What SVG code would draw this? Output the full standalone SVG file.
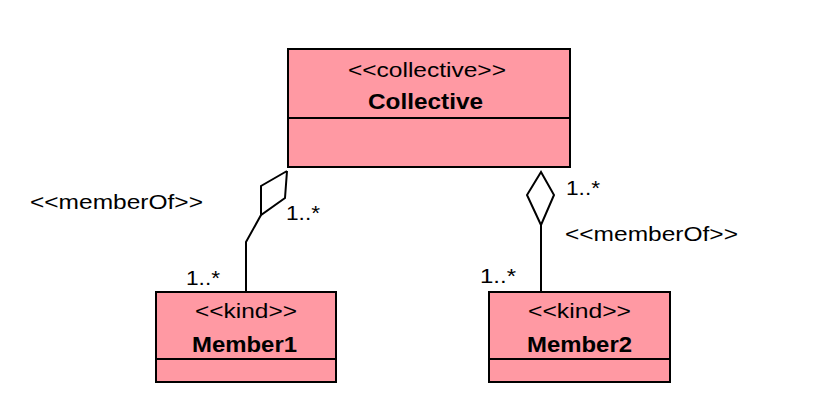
<svg xmlns="http://www.w3.org/2000/svg" width="825" height="405" viewBox="0 0 825 405">
<style>
.box{fill:#ff99a3;stroke:#000;stroke-width:2}
.ln{fill:none;stroke:#000;stroke-width:2}
text{font-family:"Liberation Sans",Arial,sans-serif;fill:#000}
.st{font-size:21px}
.nm{font-size:22px;font-weight:bold}
.lb{font-size:21px}
</style>
<rect width="825" height="405" fill="#fff"/>
<g id="connectors">
<polyline class="ln" points="287,171 261,186 261,215 285,198 287,171"/>
<polyline class="ln" points="261,215 246,242 246,292"/>
<polygon class="ln" points="541,172 527,195 541,225 554,195"/>
<line class="ln" x1="541" y1="225" x2="541" y2="292"/>
<text class="lb" x="30" y="209" textLength="173" lengthAdjust="spacingAndGlyphs">&lt;&lt;memberOf&gt;&gt;</text>
<text class="lb" x="286" y="220" textLength="34" lengthAdjust="spacingAndGlyphs">1..*</text>
<text class="lb" x="186" y="285" textLength="34" lengthAdjust="spacingAndGlyphs">1..*</text>
<text class="lb" x="566" y="195" textLength="34" lengthAdjust="spacingAndGlyphs">1..*</text>
<text class="lb" x="565" y="241" textLength="173" lengthAdjust="spacingAndGlyphs">&lt;&lt;memberOf&gt;&gt;</text>
<text class="lb" x="480" y="283" textLength="36" lengthAdjust="spacingAndGlyphs">1..*</text>
</g>
<g id="Collective">
<rect class="box" x="288" y="49" width="282" height="118"/>
<line class="ln" x1="288" y1="118" x2="570" y2="118"/>
<text class="st" x="348" y="77" textLength="158" lengthAdjust="spacingAndGlyphs">&lt;&lt;collective&gt;&gt;</text>
<text class="nm" x="368" y="109" textLength="115" lengthAdjust="spacingAndGlyphs">Collective</text>
</g>
<g id="Member1">
<rect class="box" x="156" y="292" width="180" height="90"/>
<line class="ln" x1="156" y1="359" x2="336" y2="359"/>
<text class="st" x="195" y="318" textLength="102" lengthAdjust="spacingAndGlyphs">&lt;&lt;kind&gt;&gt;</text>
<text class="nm" x="192" y="352" textLength="105" lengthAdjust="spacingAndGlyphs">Member1</text>
</g>
<g id="Member2">
<rect class="box" x="489" y="292" width="181" height="90"/>
<line class="ln" x1="489" y1="359" x2="670" y2="359"/>
<text class="st" x="528" y="318" textLength="103" lengthAdjust="spacingAndGlyphs">&lt;&lt;kind&gt;&gt;</text>
<text class="nm" x="527" y="352" textLength="105" lengthAdjust="spacingAndGlyphs">Member2</text>
</g>
</svg>
